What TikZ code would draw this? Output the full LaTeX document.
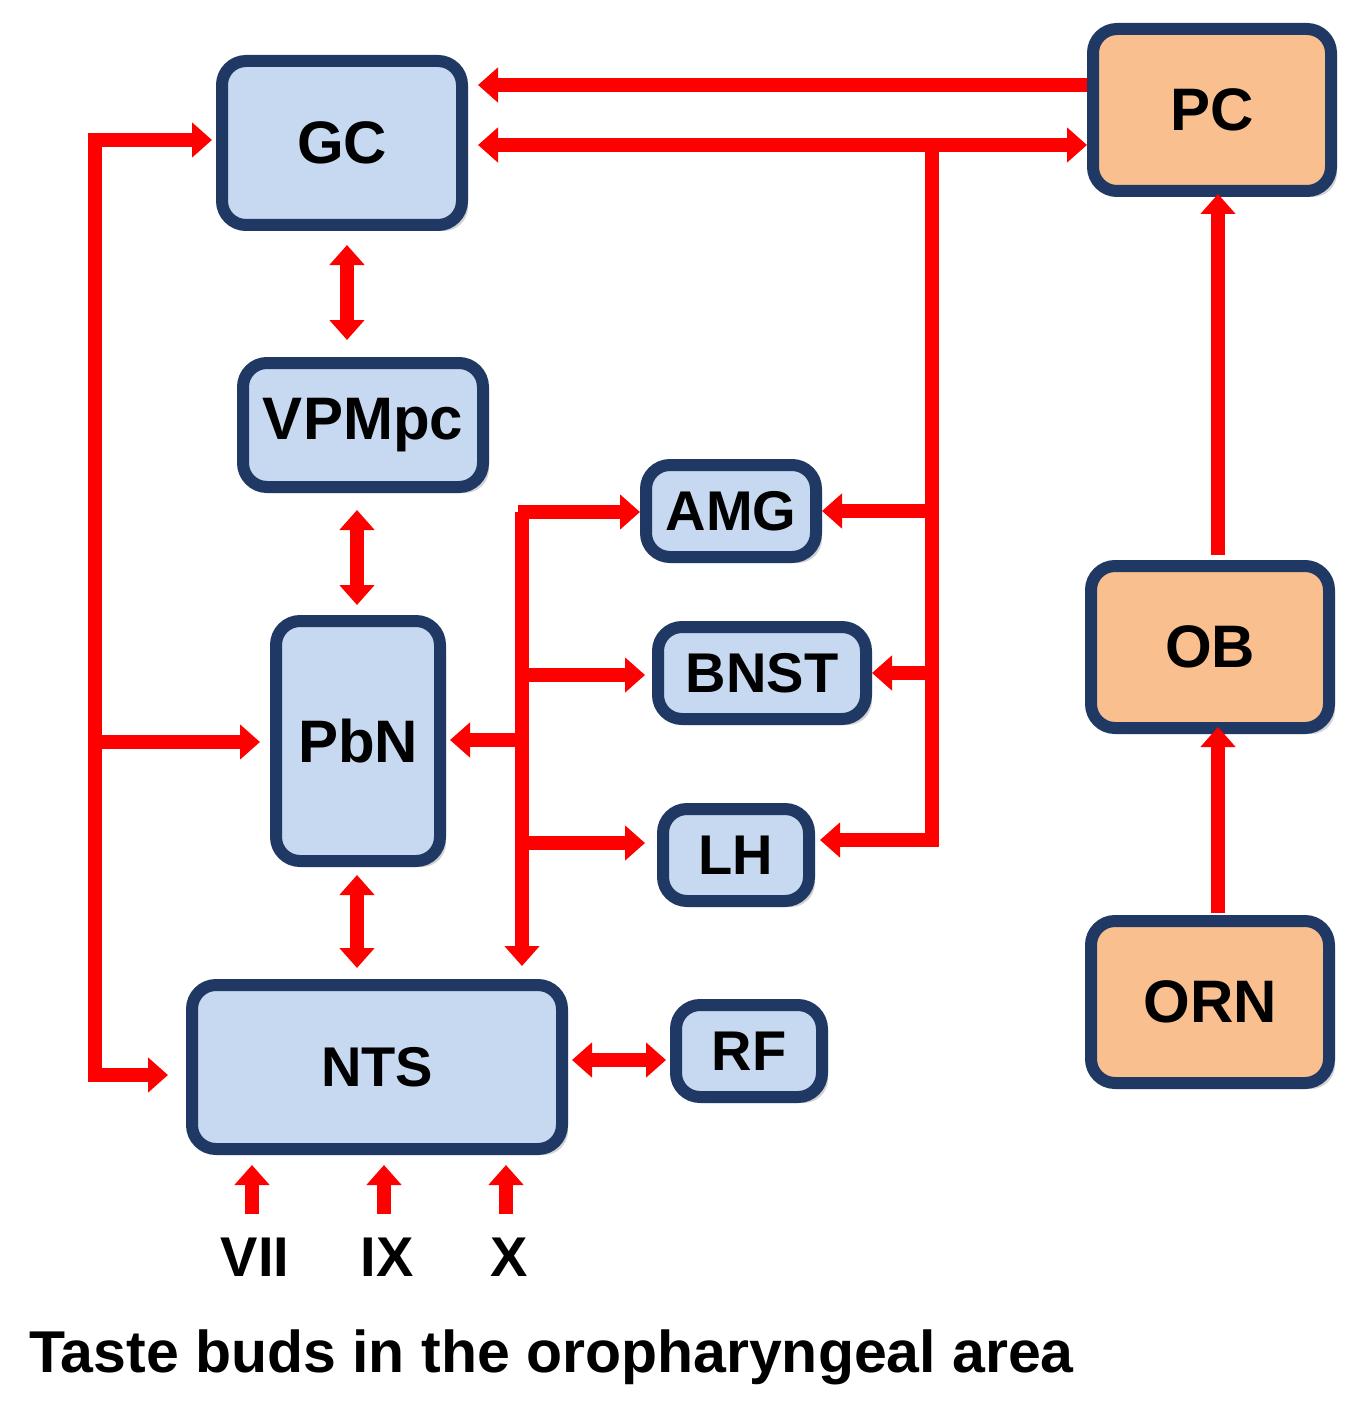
\documentclass[tikz,border=0pt]{standalone}
\usepackage{fontspec}
\setmainfont{Liberation Sans}
\usetikzlibrary{arrows.meta,shadows}
\definecolor{bfill}{HTML}{C6D9F0}
\definecolor{ofill}{HTML}{F9BF8F}
\definecolor{bord}{HTML}{1F3864}
\begin{document}
\begin{tikzpicture}[x=0.5pt,y=-0.5pt,
 box/.style={draw=bord,line width=6pt,rounded corners=12pt,fill=bfill,inner sep=0pt,
   font=\bfseries\fontsize{30}{30}\selectfont,drop shadow={opacity=0.35,shadow xshift=3pt,shadow yshift=-3pt}},
 obox/.style={box,fill=ofill},
 ar/.style={draw=red,line width=7pt,-{Triangle[width=17pt,length=10pt]}},
 dar/.style={draw=red,line width=7pt,{Triangle[width=17pt,length=10pt]}-{Triangle[width=17pt,length=10pt]}},
 ln/.style={draw=red,line width=7pt},
 lab/.style={font=\bfseries\fontsize{28}{28}\selectfont},
 sm/.style={font=\bfseries\fontsize{28}{28}\selectfont}]
\useasboundingbox (0,0) rectangle (1371,1407);
\node[box,minimum width=120pt,minimum height=82pt] (GC) at (342,143) {GC};
\node[obox,minimum width=119pt,minimum height=81pt] (PC) at (1212,110) {PC};
\node[box,minimum width=120pt,minimum height=62pt] (VP) at (363,425) {VPMpc};
\node[box,sm,minimum width=85pt,minimum height=46pt] (AMG) at (731,511) {AMG};
\node[box,sm,minimum width=104pt,minimum height=46pt] (BNST) at (762,673) {BNST};
\node[box,sm,minimum width=73pt,minimum height=46pt] (LH) at (736,855) {LH};
\node[box,minimum width=82pt,minimum height=120pt] (PbN) at (358,741) {PbN};
\node[box,sm,minimum width=185pt,minimum height=82pt] (NTS) at (377,1067) {NTS};
\node[box,sm,minimum width=73pt,minimum height=46pt] (RF) at (749,1051) {RF};
\node[obox,minimum width=119pt,minimum height=81pt] (OB) at (1210,647) {OB};
\node[obox,minimum width=119pt,minimum height=81pt] (ORN) at (1210,1002) {ORN};
% top connections
\draw[ar] (PC.west |- 0,85) -- (478,85);
\draw[dar] (478,145) -- (1087,145);
\coordinate (j1) at (932,145);
\coordinate (j2) at (932,840);
\draw[ln] (j1) -- (j2) -- (880,840);
\draw[ar] (j2) -- (820,840);
\draw[ar] (935,511) -- (AMG.east);
\draw[ar] (935,673) -- (BNST.east);
% left bus
\coordinate (l1) at (95,140);
\coordinate (l2) at (95,1075);
\draw[ln,line cap=rect] (l1) -- (l2);
\draw[ar] (91,140) -- (212,140);
\draw[ar] (91,742) -- (260,742);
\draw[ar] (91,1075) -- (168,1075);
% vertical doubles
\draw[dar] (347,245) -- (347,340);
\draw[dar] (357,510) -- (357,605);
\draw[dar] (357,875) -- (357,968);
% middle bus
\coordinate (m1) at (522,512);
\draw[ar] (m1) -- (522,966);
\draw[ar] (518,512) -- (640,512);
\draw[ar] (522,675) -- (645,675);
\draw[ar] (522,843) -- (645,843);
\draw[ar] (522,740) -- (450,740);
\draw[dar] (572,1060) -- (666,1060);
% right column
\draw[ar] (1218,555) -- (1218,194);
\draw[ar] (1218,913) -- (1218,727);
% taste inputs
\draw[ar] (252,1214) -- (252,1165);
\draw[ar] (384,1214) -- (384,1165);
\draw[ar] (506,1214) -- (506,1165);
\node[lab] (n7) at (255,1257) {VII};
\node[lab] (n9) at (387,1257) {IX};
\node[lab] (n10) at (509,1257) {X};
\node[anchor=west,font=\bfseries\fontsize{29.5}{29.5}\selectfont] (cap) at (22,1357) {Taste buds in the oropharyngeal area};
\end{tikzpicture}
\end{document}
